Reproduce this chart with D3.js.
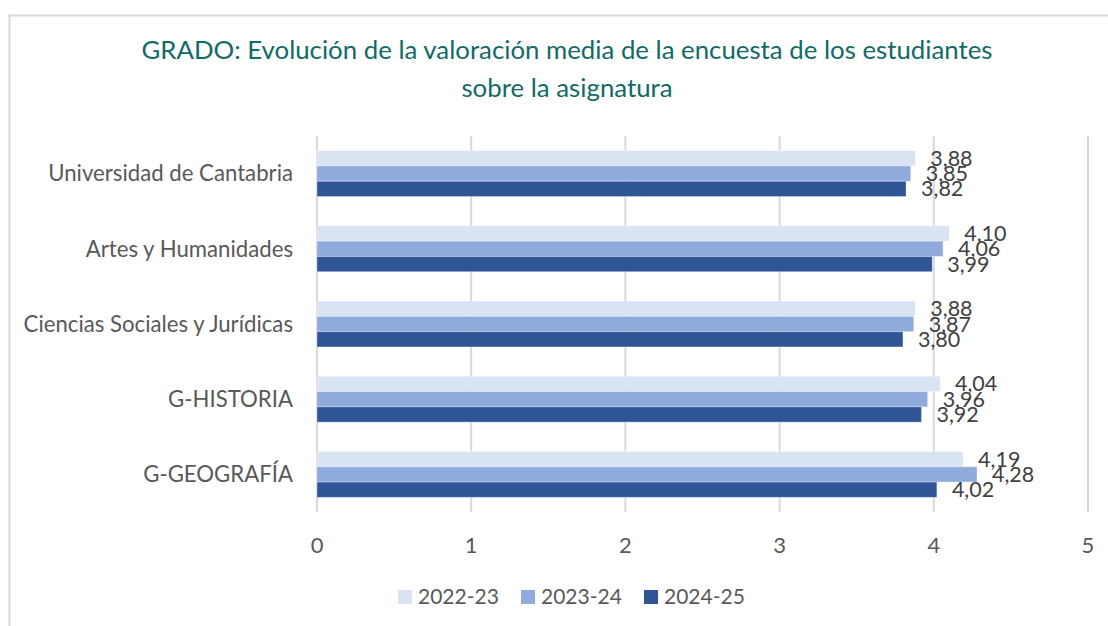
<!DOCTYPE html>
<html>
<head>
<meta charset="utf-8">
<script src="https://cdn.jsdelivr.net/npm/d3@7"></script>
<style>
  body { margin: 0; background: #fff; }
  svg { display: block; font-family: "Lato", "Open Sans", sans-serif; }
</style>
</head>
<body>
<div id="chart"></div>
<script>
// chart data
const categories = ["Universidad de Cantabria", "Artes y Humanidades", "Ciencias Sociales y Jurídicas", "G-HISTORIA", "G-GEOGRAFÍA"];
const seriesNames = ["2022-23", "2023-24", "2024-25"];
const values2223 = [3.88, 4.10, 3.88, 4.04, 4.19];
const values2324 = [3.85, 4.06, 3.87, 3.96, 4.28];
const values2425 = [3.82, 3.99, 3.80, 3.92, 4.02];
const xTicks = [0, 1, 2, 3, 4, 5];
const colors = ["#dae3f3", "#8faadc", "#2f5597"];
const titleLines = ["GRADO: Evolución de la valoración media de la encuesta de los estudiantes", "sobre la asignatura"];

const W = 1108, H = 626;
const margin = { top: 136, right: 20, bottom: 114, left: 317 };
const plotW = 1088 - margin.left;
const plotH = H - margin.top - margin.bottom;

const svg = d3.select("#chart").append("svg")
  .attr("width", W)
  .attr("height", H);

// outer frame (right/bottom edges run off the picture)
svg.append("rect")
  .attr("x", 9.5).attr("y", 15.5)
  .attr("width", W + 20).attr("height", H + 20)
  .attr("fill", "none")
  .attr("stroke", "#d9d9d9")
  .attr("stroke-width", 2);

// title
svg.append("g")
  .selectAll("text")
  .data(titleLines)
  .join("text")
  .attr("x", 567)
  .attr("y", (d, i) => 59 + i * 38)
  .attr("text-anchor", "middle")
  .attr("font-size", 25.8)
  .attr("fill", "#0f6b66")
  .text(d => d);

const g = svg.append("g")
  .attr("transform", "translate(" + margin.left + "," + margin.top + ")");

const x = d3.scaleLinear().domain([0, 5]).range([0, plotW]);
const y = d3.scaleBand().domain(categories).range([0, plotH]).paddingInner(0.39).paddingOuter(0.195);
const ySub = d3.scaleBand().domain(seriesNames).range([0, y.bandwidth()]);

// vertical gridlines
g.append("g")
  .selectAll("line")
  .data(xTicks)
  .join("line")
  .attr("x1", d => x(d)).attr("x2", d => x(d))
  .attr("y1", 0).attr("y2", plotH)
  .attr("stroke", "#d9d9d9")
  .attr("stroke-width", 2);

// x tick labels
g.append("g")
  .attr("font-size", 22)
  .attr("fill", "#595959")
  .attr("text-anchor", "middle")
  .selectAll("text")
  .data(xTicks)
  .join("text")
  .attr("x", d => x(d))
  .attr("y", plotH + 41)
  .text(d => d);

// category labels
g.append("g")
  .attr("font-size", 22.2)
  .attr("fill", "#595959")
  .attr("text-anchor", "end")
  .selectAll("text")
  .data(categories)
  .join("text")
  .attr("x", -24)
  .attr("y", d => y(d) + y.bandwidth() / 2)
  .attr("dy", "0.35em")
  .text(d => d);

const allSeries = [values2223, values2324, values2425];
const rows = [];
categories.forEach((c, i) => {
  seriesNames.forEach((s, j) => {
    rows.push({ cat: c, series: s, idx: j, value: allSeries[j][i] });
  });
});

// bars
g.append("g")
  .selectAll("rect")
  .data(rows)
  .join("rect")
  .attr("x", x(0))
  .attr("y", d => y(d.cat) + ySub(d.series))
  .attr("width", d => x(d.value) - x(0))
  .attr("height", ySub.bandwidth())
  .attr("fill", d => colors[d.idx])
  .attr("stroke", "#fff")
  .attr("stroke-opacity", 0.35)
  .attr("stroke-width", 1);

// value labels
const fmt = v => d3.format(".2f")(v).replace(".", ",");
g.append("g")
  .attr("font-size", 21.5)
  .attr("fill", "#404040")
  .selectAll("text")
  .data(rows)
  .join("text")
  .attr("x", d => x(d.value) + 15)
  .attr("y", d => y(d.cat) + ySub(d.series) + ySub.bandwidth() / 2)
  .attr("dy", "0.35em")
  .text(d => fmt(d.value));

// legend
const legend = svg.append("g")
  .attr("transform", "translate(398,597)");
const item = legend.selectAll("g")
  .data(seriesNames)
  .join("g")
  .attr("transform", (d, i) => "translate(" + i * 123 + ",0)");
item.append("rect")
  .attr("x", 0).attr("y", -7)
  .attr("width", 14).attr("height", 14)
  .attr("fill", (d, i) => colors[i]);
item.append("text")
  .attr("x", 20).attr("y", 0)
  .attr("dy", "0.35em")
  .attr("font-size", 21)
  .attr("fill", "#595959")
  .text(d => d);
</script>
</body>
</html>
